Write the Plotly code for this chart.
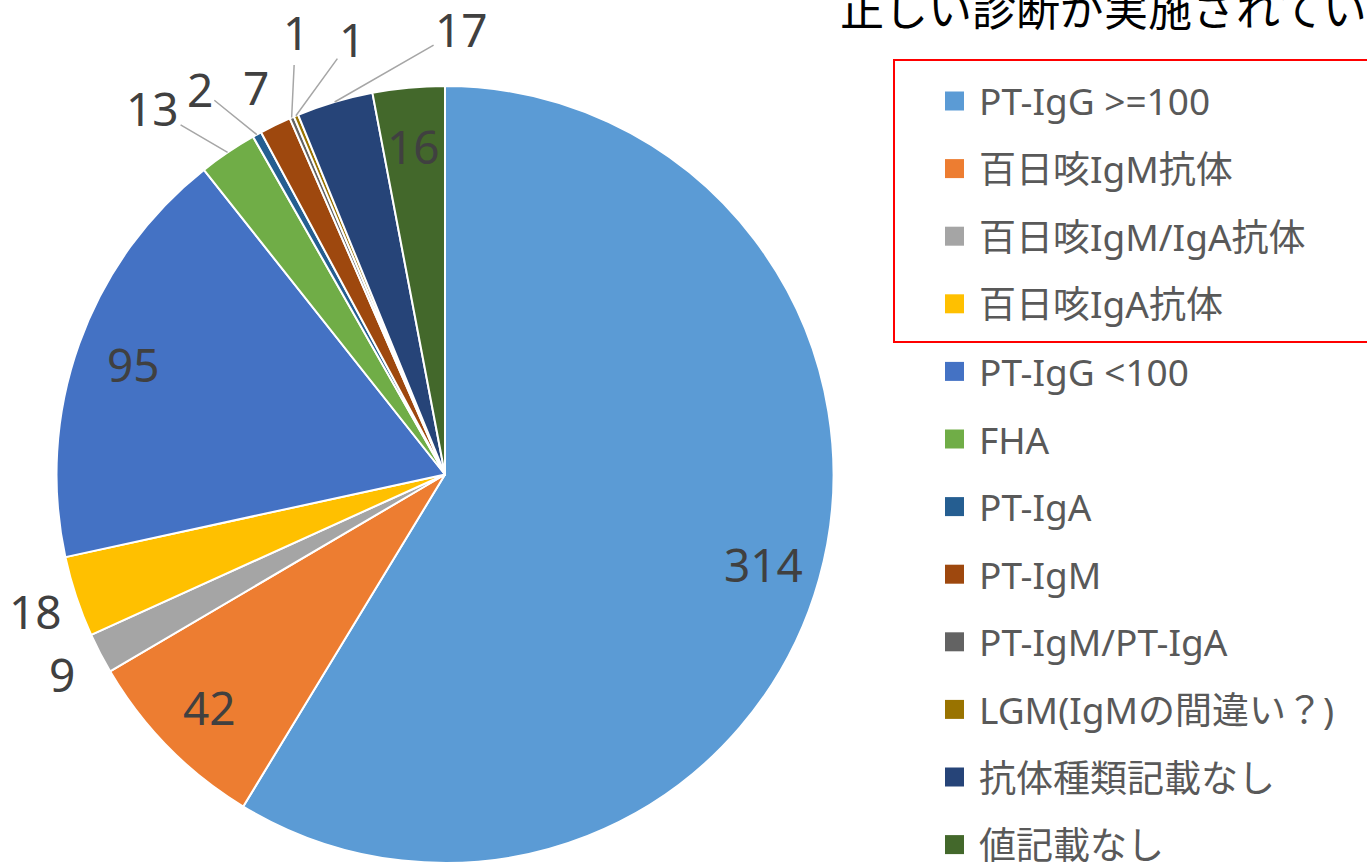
import math
import plotly.graph_objects as go

# categories and counts, clockwise from 12 o'clock
labels = [
    "PT-IgG >=100", "百日咳IgM抗体", "百日咳IgM/IgA抗体", "百日咳IgA抗体",
    "PT-IgG <100", "FHA", "PT-IgA", "PT-IgM", "PT-IgM/PT-IgA",
    "LGM(IgMの間違い？)", "抗体種類記載なし", "値記載なし",
]
values = [314, 42, 9, 18, 95, 13, 2, 7, 1, 1, 17, 16]
colors = [
    "#5B9BD5", "#ED7D31", "#A5A5A5", "#FFC000", "#4472C4", "#70AD47",
    "#255E91", "#9E480E", "#636363", "#997300", "#264478", "#43682B",
]
title_text = "正しい診断が実施されている"

# label placement per slice: "in" / "out" (radial), or pixel offset with a leader line
label_mode = ["in", "in", "out", "out", "in", "line", "line", "out", "line", "line", "line", "in"]
leader_offsets = {5: (-75, -44), 6: (-57, -46), 8: (4, -85), 9: (56, -77), 10: (127, -73)}

W, H = 1367, 863
R = 389
CX, CY = 445, 475  # pie centre in pixels
font_fam = "Noto Sans, Noto Sans CJK JP, sans-serif"


def px_x(sx):
    return sx / W


def px_y(sy):
    return 1 - sy / H


fig = go.Figure()
fig.add_trace(go.Pie(
    labels=labels,
    values=values,
    sort=False,
    direction="clockwise",
    rotation=0,
    marker=dict(colors=colors, line=dict(color="white", width=2)),
    textinfo="none",
    domain=dict(x=[px_x(CX - R), px_x(CX + R)], y=[max(px_y(CY + R), 0), px_y(CY - R)]),
    showlegend=False,
    hoverinfo="label+value",
))

annotations = []
shapes = []

# value labels, positioned from each slice's mid angle
total = sum(values)
cum = 0
for i, v in enumerate(values):
    mid = (cum + v / 2) / total * 2 * math.pi
    cum += v
    sx, sy = math.sin(mid), math.cos(mid)
    lab_font = dict(size=46, color="#404040", family=font_fam)
    mode = label_mode[i]
    if mode in ("in", "out"):
        r = 0.85 * R if mode == "in" else 1.11 * R
        annotations.append(dict(text=str(v), x=px_x(CX + sx * r), y=px_y(CY - sy * r),
                                xref="paper", yref="paper", showarrow=False,
                                xanchor="center", yanchor="middle", font=lab_font))
    else:
        ax, ay = leader_offsets[i]
        annotations.append(dict(text=str(v), x=px_x(CX + sx * R), y=px_y(CY - sy * R),
                                xref="paper", yref="paper", showarrow=True,
                                ax=ax, ay=ay, arrowhead=0, arrowwidth=1.5,
                                arrowcolor="#A6A6A6", standoff=0,
                                xanchor="center", yanchor="middle", font=lab_font))

# hand-drawn legend, one row per category
row0, step = 101, 67.6
for i, (lab, col) in enumerate(zip(labels, colors)):
    yc = row0 + step * i
    shapes.append(dict(type="rect", xref="paper", yref="paper",
                       x0=px_x(945), x1=px_x(964),
                       y0=px_y(yc + 9.5), y1=px_y(yc - 9.5),
                       fillcolor=col, line=dict(width=0)))
    annotations.append(dict(text=lab, xref="paper", yref="paper",
                            x=px_x(977), y=px_y(yc), xanchor="left", yanchor="middle",
                            showarrow=False,
                            font=dict(size=37, color="#595959", family=font_fam)))

# red box around the first four legend entries
shapes.append(dict(type="rect", xref="paper", yref="paper",
                   x0=px_x(894), x1=px_x(1390), y0=px_y(342), y1=px_y(60),
                   line=dict(color="#FF0000", width=2), fillcolor="rgba(0,0,0,0)"))

annotations.append(dict(text=title_text, xref="paper", yref="paper",
                        x=px_x(838), y=px_y(9), xanchor="left", yanchor="middle",
                        showarrow=False,
                        font=dict(size=44, color="#000000", family=font_fam)))

fig.update_layout(
    width=W, height=H,
    margin=dict(l=0, r=0, t=0, b=0),
    paper_bgcolor="white",
    plot_bgcolor="white",
    shapes=shapes,
    annotations=annotations,
)

# drop the page's default body margin so the figure fills the window
fig.write_html("out.html",
               config={"displayModeBar": False},
               post_script="document.body.style.margin='0';document.body.style.overflow='hidden';")
